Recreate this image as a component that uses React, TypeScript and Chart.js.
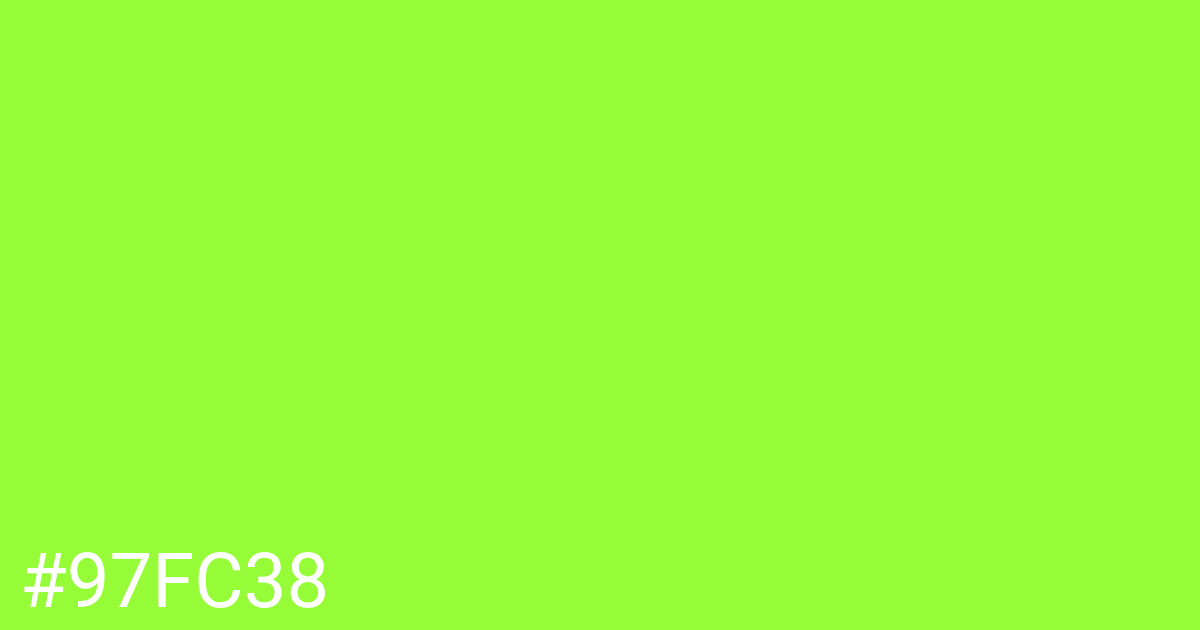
import React, { useEffect, useRef } from "react";
import { Chart, registerables } from "chart.js";

Chart.register(...registerables);

const categories: string[] = [];
const values: number[] = [];
const swatchHex = "#97FC38";
const labelText = "#97FC38";
const textColor = "#FFFFFF";

const backgroundPlugin = {
  id: "swatchBackground",
  beforeDraw(chart: any) {
    const { ctx, width, height } = chart;
    ctx.save();
    ctx.fillStyle = swatchHex;
    ctx.fillRect(0, 0, width, height);
    ctx.restore();
  },
};

export default function App() {
  const ref = useRef<HTMLCanvasElement | null>(null);
  useEffect(() => {
    if (!ref.current) return;
    const chart = new Chart(ref.current, {
      type: "bar",
      data: {
        labels: categories,
        datasets: [{ label: "swatch", data: values, backgroundColor: swatchHex }],
      },
      options: {
        animation: false,
        responsive: false,
        devicePixelRatio: 1,
        layout: { padding: { left: 20, bottom: 4, top: 0, right: 0 } },
        scales: { x: { display: false }, y: { display: false } },
        plugins: {
          legend: { display: false },
          tooltip: { enabled: false },
          title: {
            display: true,
            text: labelText,
            position: "bottom",
            align: "start",
            color: textColor,
            padding: { top: 0, bottom: 0 },
            font: { family: "Roboto", size: 76, weight: "normal", lineHeight: 1 },
          },
        },
      },
      plugins: [backgroundPlugin],
    });
    return () => chart.destroy();
  }, []);
  return (
    <canvas
      ref={ref}
      width={1200}
      height={630}
      style={{ position: "absolute", left: 0, top: 0, width: 1200, height: 630, display: "block" }}
    />
  );
}
